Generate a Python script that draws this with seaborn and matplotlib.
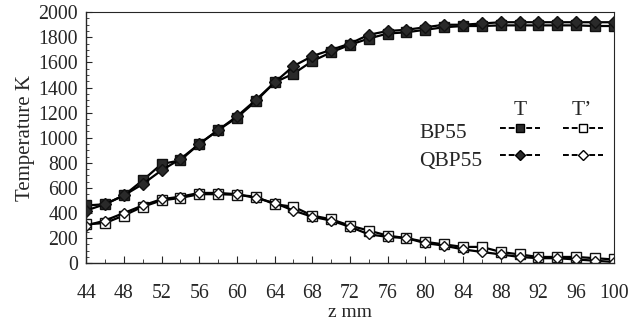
import numpy as np
import pandas as pd
import matplotlib
matplotlib.use('Agg')
import matplotlib.pyplot as plt
from matplotlib.lines import Line2D
from matplotlib.ticker import MultipleLocator
import seaborn as sns

# data
z_mm = list(range(44, 101, 2))

bp55_T = [460, 470, 540, 660, 790, 820, 950, 1060, 1160, 1290, 1440, 1510, 1610, 1680,
          1740, 1790, 1830, 1840, 1860, 1880, 1890, 1890, 1895, 1895, 1895, 1895, 1895, 1890, 1890]
qbp55_T = [420, 470, 540, 630, 740, 830, 950, 1060, 1170, 1300, 1440, 1570, 1650, 1700,
           1750, 1820, 1850, 1860, 1880, 1900, 1900, 1910, 1920, 1920, 1920, 1920, 1920, 1920, 1920]
bp55_Tp = [310, 320, 380, 450, 500, 520, 550, 550, 545, 530, 470, 450, 380, 350,
           300, 260, 220, 200, 170, 150, 130, 130, 90, 70, 50, 50, 50, 40, 30]
qbp55_Tp = [300, 340, 400, 460, 510, 530, 560, 560, 550, 520, 480, 420, 370, 340,
            290, 230, 210, 200, 160, 140, 110, 90, 70, 50, 40, 40, 30, 20, 10]

df = pd.DataFrame({'z': z_mm, 'bp55_T': bp55_T, 'qbp55_T': qbp55_T,
                   'bp55_Tp': bp55_Tp, 'qbp55_Tp': qbp55_Tp})

sns.set_style('ticks')
plt.rcParams['font.family'] = ['Liberation Serif', 'DejaVu Serif']

fig, ax = plt.subplots(figsize=(6.38, 3.21), dpi=100)
fig.subplots_adjust(left=0.135, right=0.962, top=0.962, bottom=0.18)

dark = '#2a2a2a'
series = [
    ('bp55_T', 's', dark, 7.5),
    ('qbp55_T', 'D', dark, 6.5),
    ('bp55_Tp', 's', 'white', 7.5),
    ('qbp55_Tp', 'D', 'white', 5.5),
]
for col, mk, fc, ms in series:
    sns.lineplot(data=df, x='z', y=col, ax=ax, color='black', linewidth=1.6,
                 marker=mk, markersize=ms, markerfacecolor=fc,
                 markeredgecolor='#111111', markeredgewidth=1.0)

ax.set_xlim(44, 100)
ax.set_ylim(0, 2000)
ax.xaxis.set_major_locator(MultipleLocator(4))
ax.xaxis.set_minor_locator(MultipleLocator(2))
ax.yaxis.set_major_locator(MultipleLocator(200))
ax.yaxis.set_minor_locator(MultipleLocator(50))
ax.tick_params(axis='both', which='both', direction='in', labelsize=14.3)
ax.tick_params(axis='x', which='major', pad=15, length=5)
ax.tick_params(axis='x', which='minor', length=3)
ax.tick_params(axis='y', which='major', length=4, pad=6)
ax.tick_params(axis='y', which='minor', length=2)
for s in ax.spines.values():
    s.set_linewidth(1.0)
ax.spines['top'].set_linewidth(0.8)
ax.spines['right'].set_linewidth(0.8)

ax.set_xlabel('z mm', fontsize=14, labelpad=1)
ax.set_ylabel('Temperature K', fontsize=15, labelpad=2)

# table-like legend
handles = [
    Line2D([], [], color='black', ls=(0, (3, 1.5)), lw=1.4, marker='s', ms=6,
           mfc=dark, mec='black'),
    Line2D([], [], color='black', ls=(0, (3, 1.5)), lw=1.4, marker='D', ms=5,
           mfc=dark, mec='black'),
    Line2D([], [], color='black', ls=(0, (3, 1.5)), lw=1.4, marker='s', ms=6,
           mfc='white', mec='black'),
    Line2D([], [], color='black', ls=(0, (3, 1.5)), lw=1.4, marker='D', ms=5,
           mfc='white', mec='black'),
]
ax.legend(handles=handles, labels=['', '', '', ''], ncol=2, frameon=False,
          handlelength=2.4, handletextpad=0, columnspacing=1.4, labelspacing=0.7,
          borderpad=0, borderaxespad=0,
          loc='upper left', bbox_to_anchor=(0.784, 0.565), fontsize=12)
ax.text(0.632, 0.515, 'BP55', transform=ax.transAxes, fontsize=15.5, va='center')
ax.text(0.632, 0.405, 'QBP55', transform=ax.transAxes, fontsize=15.5, va='center')
ax.text(0.822, 0.61, 'T', transform=ax.transAxes, fontsize=15.5, va='center', ha='center')
ax.text(0.94, 0.61, 'T\u2019', transform=ax.transAxes, fontsize=15.5, va='center', ha='center')

fig.savefig('out.png', dpi=100)
